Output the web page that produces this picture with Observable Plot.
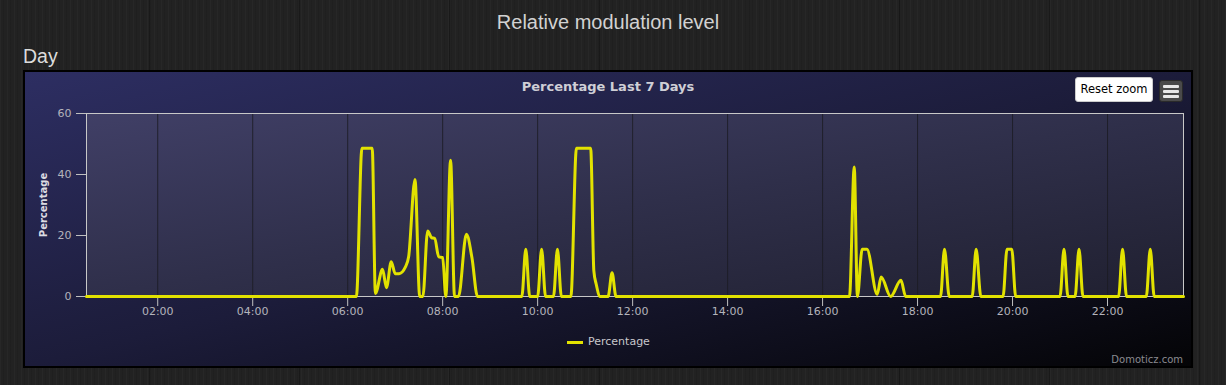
<!DOCTYPE html>
<html>
<head>
<meta charset="utf-8">
<script src="https://cdn.jsdelivr.net/npm/d3@7"></script>
<script src="https://cdn.jsdelivr.net/npm/@observablehq/plot@0.6"></script>
<style>
  html, body { margin: 0; padding: 0; width: 1226px; height: 385px; overflow: hidden; }
  body {
    position: relative;
    background-color: #222;
    background-image:
      repeating-linear-gradient(90deg, rgba(255,255,255,0.025) 0 1px, rgba(0,0,0,0) 1px 3px, rgba(0,0,0,0.08) 3px 4px, rgba(0,0,0,0) 4px 7px),
      repeating-linear-gradient(90deg, rgba(0,0,0,0) 0 149px, rgba(0,0,0,0.25) 149px 150px);
  }
  .abs { position: absolute; white-space: nowrap; }
  #title { left: 0; width: 1216px; top: 12px; text-align: center; font: 20px/20px "Liberation Sans", Arial, sans-serif; color: #d2d2d2; }
  #day { left: 23px; top: 46.5px; font: 19.5px/19.5px "Liberation Sans", Arial, sans-serif; color: #dcdcdc; }
  #box { left: 23px; top: 70px; width: 1170px; height: 298px; box-sizing: border-box; border: 2px solid #000;
         background: linear-gradient(to bottom right, #2d2e62 0%, #1c1c3a 50%, #040406 100%); }
  #ctitle { left: 0; width: 1216px; top: 79.7px; text-align: center; font: bold 13px/13px "DejaVu Sans", sans-serif; color: #cfcfd6; }
  #reset { left: 1075px; top: 77px; width: 78px; height: 25px; box-sizing: border-box; background: #fff; border: 1px solid #ccc; border-radius: 3px;
           font: 11.5px/23px "DejaVu Sans", sans-serif; color: #000; text-align: center; }
  #menu { left: 1159px; top: 80px; width: 24px; height: 22px; box-sizing: border-box; background: #4a4a4a; border: 1px solid #2a2a2a; border-radius: 3px; }
  #menu i { position: absolute; left: 3px; width: 16px; height: 3px; background: #e8e8e8; border-radius: 1px; }
  #legsym { left: 567px; top: 341px; width: 16px; height: 3px; background: #e2e200; }
  #legtxt { left: 588px; top: 336.4px; font: 11px/11px "DejaVu Sans", sans-serif; color: #c8c8cc; }
  #credit { left: 1000px; width: 183px; top: 354.5px; text-align: right; font: 10px/10px "DejaVu Sans", sans-serif; color: #8a8a90; }
  #chart { left: 0; top: 100px; }
</style>
</head>
<body>
<div class="abs" id="title">Relative modulation level</div>
<div class="abs" id="day">Day</div>
<div class="abs" id="box"></div>
<div class="abs" id="ctitle">Percentage Last 7 Days</div>
<div class="abs" id="reset">Reset zoom</div>
<div class="abs" id="menu"><i style="top:4px"></i><i style="top:9px"></i><i style="top:14px"></i></div>
<div class="abs" id="chart"></div>
<div class="abs" id="legsym"></div>
<div class="abs" id="legtxt">Percentage</div>
<div class="abs" id="credit">Domoticz.com</div>
<script>
// ---- data ----
const times = ["00:30","06:11","06:18","06:31","06:35","06:44","06:49","06:55","07:00","07:05","07:13","07:17","07:25","07:31","07:35","07:41","07:46","07:50","07:55","08:00","08:04","08:10","08:15","08:20","08:30","08:37","08:44","09:40","09:45","09:50","10:00","10:05","10:10","10:20","10:25","10:30","10:42","10:49","11:07","11:11","11:14","11:19","11:29","11:34","11:39","16:34","16:40","16:44","16:50","16:56","17:09","17:14","17:26","17:39","17:45","18:29","18:34","18:40","19:09","19:14","19:20","19:48","19:53","19:59","20:04","21:00","21:05","21:10","21:19","21:24","21:29","22:14","22:19","22:24","22:49","22:54","22:59","23:36"];
const percentage = [0,0,48.6,48.6,1,8.9,2.9,11.4,7.5,7.5,9.7,13,38.4,0,0,21.5,19.3,19,13,12.8,0,44.7,0,0,20.4,12.7,0,0,15.5,0,0,15.5,0,0,15.5,0,0,48.6,48.6,8.4,4,0,0,7.8,0,0,42.5,0,15.5,15.5,0.7,6.4,0,5.3,0,0,15.5,0,0,15.5,0,0,15.5,15.5,0,0,15.5,0,0,15.5,0,0,15.5,0,0,15.5,0,0];
const xTickLabels = ["02:00","04:00","06:00","08:00","10:00","12:00","14:00","16:00","18:00","20:00","22:00"];
const yTicks = [0, 20, 40, 60];
const xRange = ["00:30", "23:36"];

const parse = d3.utcParse("%H:%M");
const data = times.map((t, i) => ({time: parse(t), value: percentage[i]}));
const xTicks = xTickLabels.map(parse);

const defs = () => {
  const d = d3.create("svg:defs");
  const g = d.append("linearGradient").attr("id", "plotbg").attr("x1", 0).attr("y1", 0).attr("x2", 1).attr("y2", 1);
  g.append("stop").attr("offset", "0%").attr("stop-color", "#403f66");
  g.append("stop").attr("offset", "50%").attr("stop-color", "#2f2f4a");
  g.append("stop").attr("offset", "100%").attr("stop-color", "#202030");
  return d.node();
};

const chart = Plot.plot({
  width: 1226,
  height: 230,
  marginLeft: 86,
  marginRight: 43,
  marginTop: 13,
  marginBottom: 34,
  style: {background: "transparent", fontFamily: "DejaVu Sans, sans-serif", fontSize: "11px", overflow: "visible"},
  x: {type: "utc", domain: xRange.map(parse)},
  y: {domain: [0, 60]},
  marks: [
    defs,
    Plot.frame({fill: "url(#plotbg)"}),
    Plot.gridX({ticks: xTicks, stroke: "#1c1c24", strokeOpacity: 0.85}),
    Plot.frame({stroke: "#c8c8c8", strokeWidth: 1}),
    Plot.axisX({ticks: xTicks, tickSize: 10, tickPadding: 1, stroke: "#c0c0c0", fill: "#b4b4bc", tickFormat: d3.utcFormat("%H:%M"), label: null}),
    Plot.axisY({ticks: yTicks, tickSize: 10, tickPadding: 5, stroke: "#c0c0c0", fill: "#b4b4bc", label: null}),
    Plot.text(["Percentage"], {frameAnchor: "left", textAnchor: "middle", dx: -43, rotate: -90, fontWeight: "bold", fontSize: 10, fill: "#dcdce2"}),
    Plot.line(data, {x: "time", y: "value", curve: "monotone-x", stroke: "#e2e200", strokeWidth: 3})
  ]
});
document.getElementById("chart").appendChild(chart);
</script>
</body>
</html>
